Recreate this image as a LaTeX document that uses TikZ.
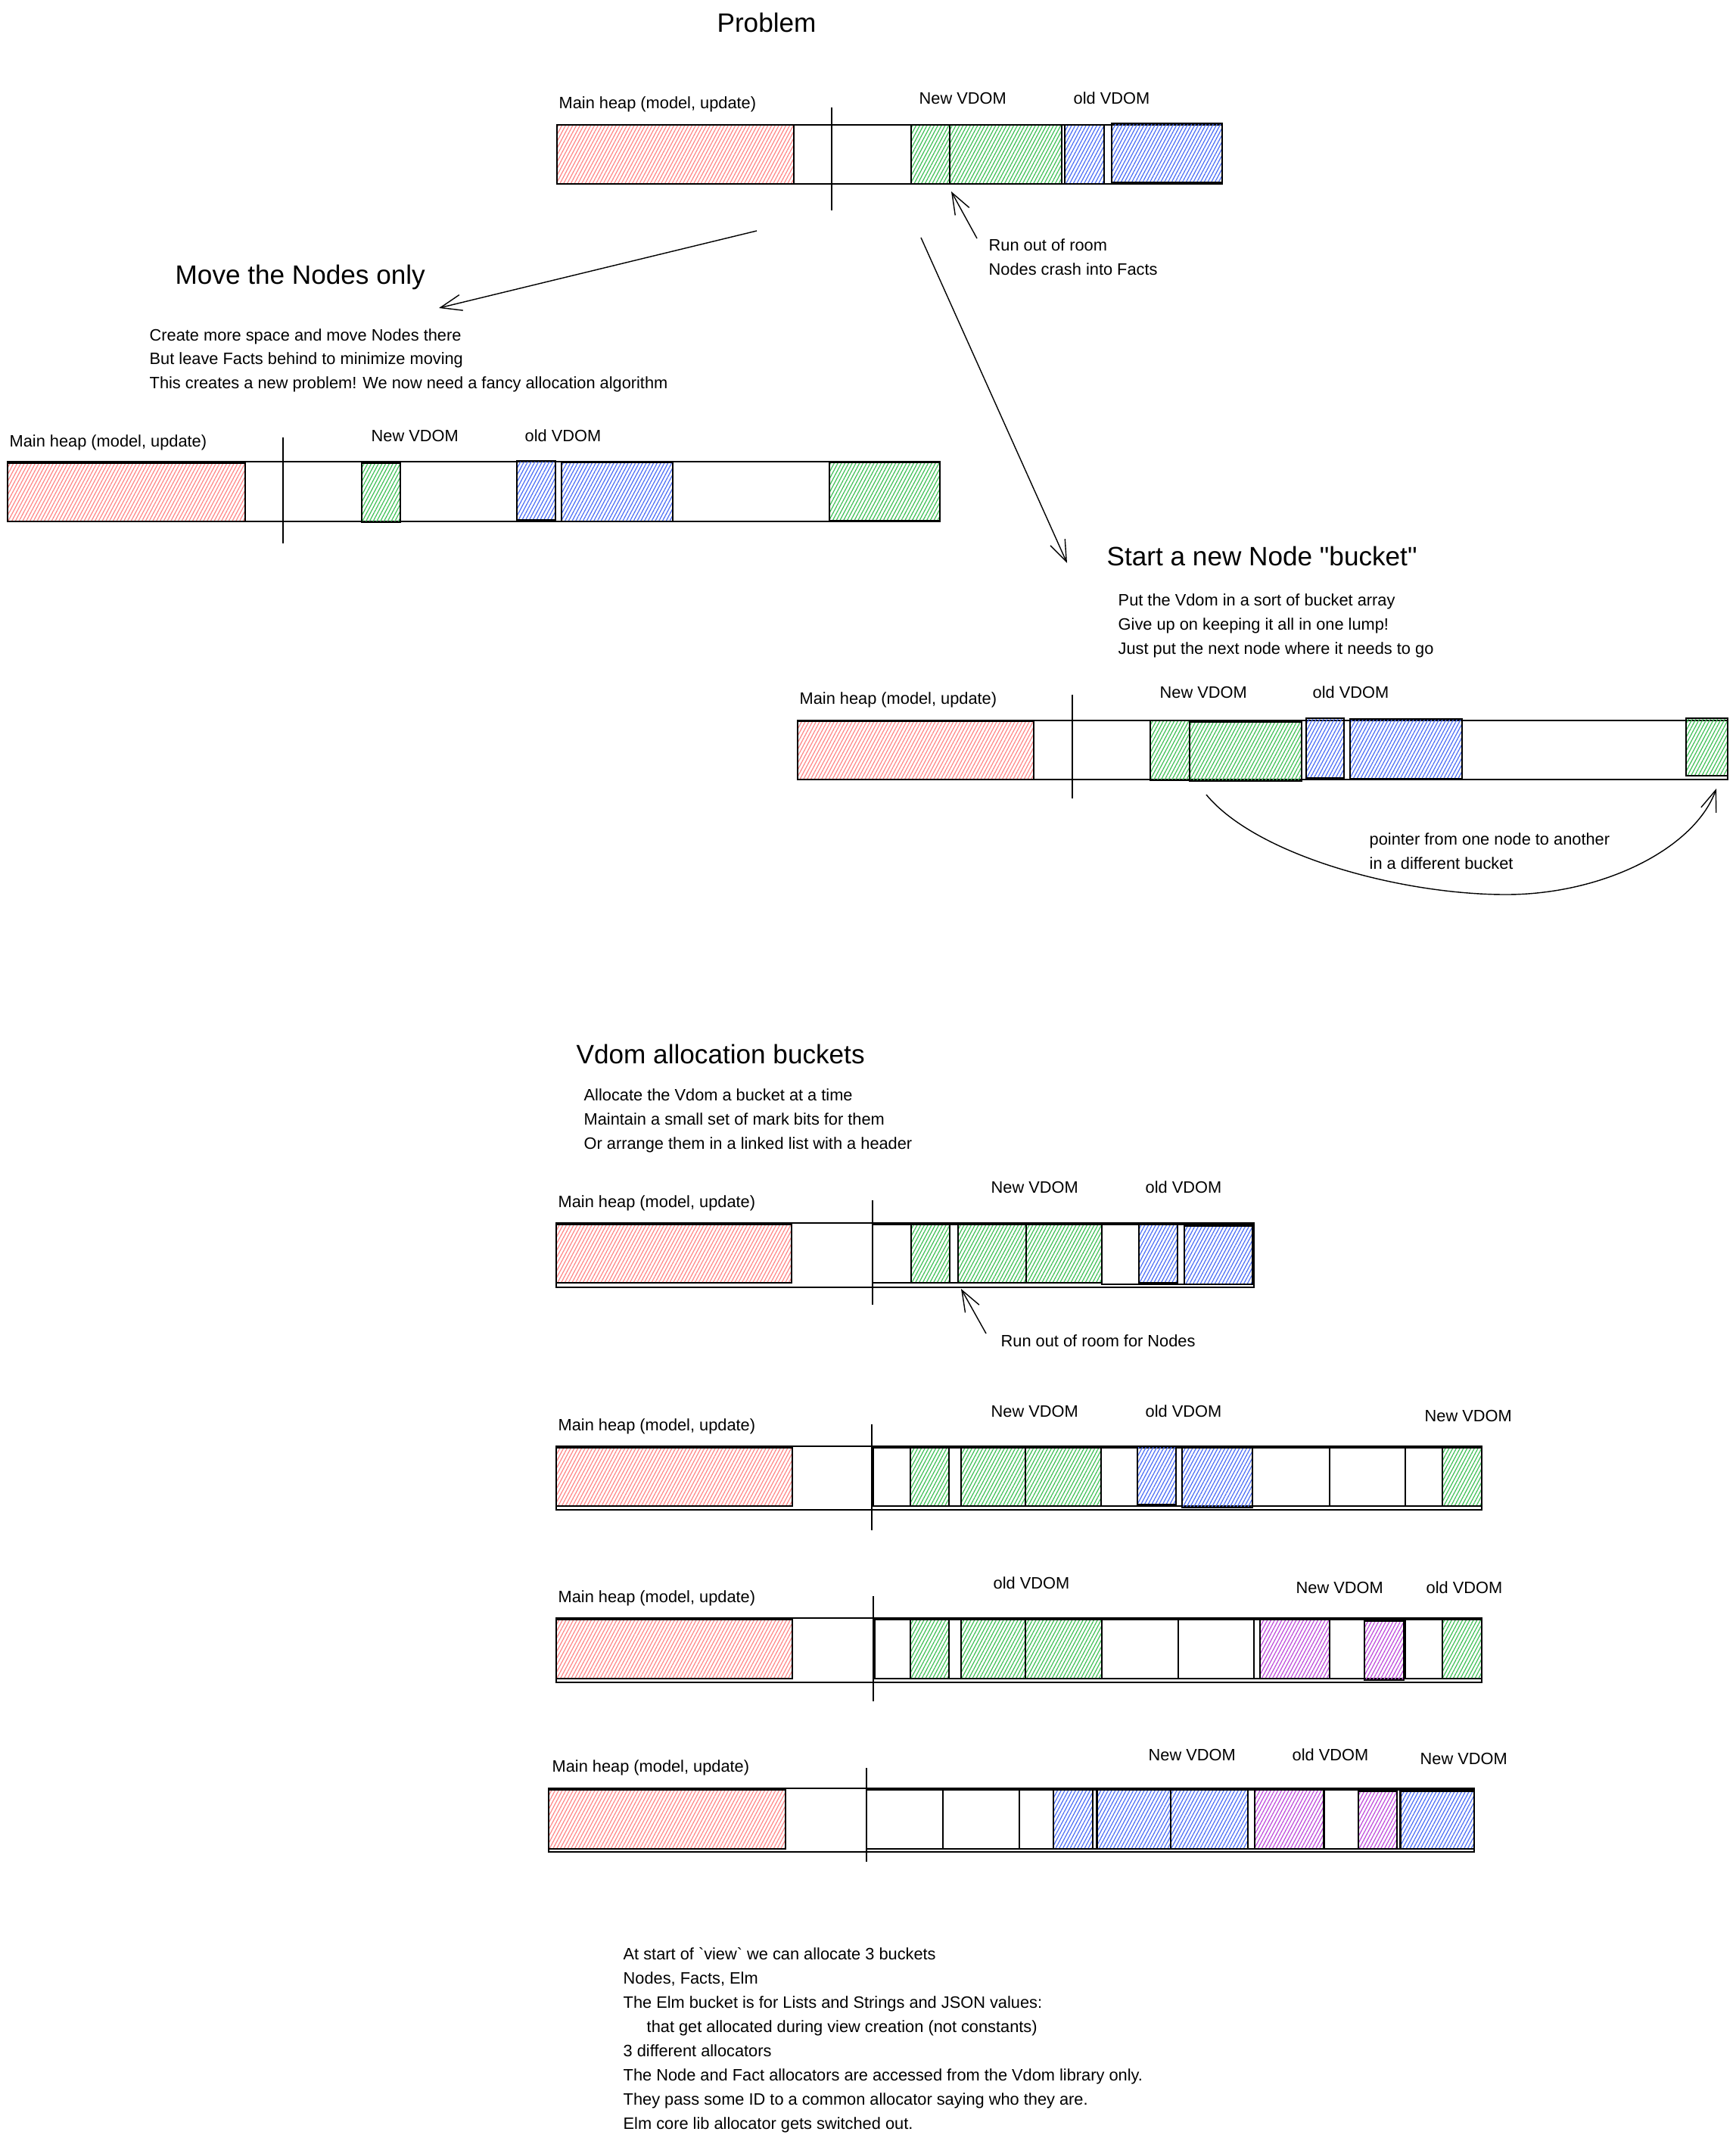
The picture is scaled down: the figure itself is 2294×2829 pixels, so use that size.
\documentclass[tikz,border=0pt]{standalone}
\usepackage{fontspec}
\setmainfont{Liberation Sans}
\usetikzlibrary{arrows.meta,patterns.meta}

\definecolor{hatchred}{HTML}{FF8787}
\definecolor{hatchgreen}{HTML}{40C057}
\definecolor{hatchblue}{HTML}{4C6EF5}
\definecolor{hatchpurple}{HTML}{BE4BDB}

\tikzset{
  bar/.style={draw, line width=0.5pt},
  hatch/.style={bar, pattern={Lines[angle=62,distance=1.2pt,line width=0.35pt]}},
  heapred/.style={hatch, pattern color=hatchred},
  nodegreen/.style={hatch, pattern color=hatchgreen},
  factblue/.style={hatch, pattern color=hatchblue},
  elmpurple/.style={hatch, pattern color=hatchpurple},
  sep/.style={line width=0.4pt},
  hand/.style={inner sep=0pt, anchor=base west, font=\fontsize{6.2}{7.5}\selectfont},
  title/.style={inner sep=0pt, anchor=base west, font=\fontsize{10}{12}\selectfont},
  >={Straight Barb[length=8pt,width=6pt]}
}

\begin{document}
\begin{tikzpicture}[x=0.1mm,y=-0.1mm]
    \useasboundingbox (0,0) rectangle (2294,2829);

    % titles
    \node[title, anchor=base] (problem) at (1013,43) {Problem};
    \node[title] (move) at (231,375) {Move the Nodes only};
    \node[title] (bucket) at (1462,747) {Start a new Node \textquotedbl bucket\textquotedbl};
    \node[title] (alloc) at (761,1405) {Vdom allocation buckets};

    % problem heap
    \draw[bar] (736,165) rectangle (1615,243);
    \draw[heapred] (736,165) rectangle (1049,243);
    \draw[nodegreen] (1204,165) rectangle (1255,243);
    \draw[nodegreen] (1255,165) rectangle (1403,243);
    \draw[factblue] (1407,165) rectangle (1459,243);
    \draw[factblue] (1469,163) rectangle (1615,241);
    \draw[sep] (1099,142) -- (1099,278);

    \node[hand] (heap_p) at (738,143) {Main heap (model, update)};
    \node[hand] (new_p) at (1214,137) {New VDOM};
    \node[hand] (old_p) at (1418,137) {old VDOM};
    \node[hand] (room_p) at (1306,331) {Run out of room};
    \node[hand] (crash_p) at (1306,363) {Nodes crash into Facts};

    \coordinate (room_tail) at (1291,315);
    \coordinate (room_tip) at (1257,253);
    \draw[->] (room_tail) -- (room_tip);

    % arrows out of the problem
    \coordinate (prob_l) at (1000,305);
    \coordinate (move_tip) at (580,407);
    \draw[->] (prob_l) -- (move_tip);
    \coordinate (prob_r) at (1217,314);
    \coordinate (bucket_tip) at (1410,744);
    \draw[->] (prob_r) -- (bucket_tip);

    % move the nodes only
    \node[hand] (move_1) at (197,450) {Create more space and move Nodes there};
    \node[hand] (move_2) at (197,481) {But leave Facts behind to minimize moving};
    \node[hand] (move_3) at (197,513) {This creates a new problem! We now need a fancy allocation algorithm};

    \draw[bar] (10,610) rectangle (1242,689);
    \draw[heapred] (10,612) rectangle (324,689);
    \draw[nodegreen] (478,612) rectangle (529,690);
    \draw[factblue] (683,609) rectangle (734,687);
    \draw[factblue] (742,611) rectangle (889,689);
    \draw[nodegreen] (1096,611) rectangle (1242,688);
    \draw[sep] (374,578) -- (374,718);

    \node[hand] (heap_m) at (12,590) {Main heap (model, update)};
    \node[hand] (new_m) at (490,583) {New VDOM};
    \node[hand] (old_m) at (693,583) {old VDOM};

    % start a new node bucket
    \node[hand] (bucket_1) at (1477,800) {Put the Vdom in a sort of bucket array};
    \node[hand] (bucket_2) at (1477,832) {Give up on keeping it all in one lump!};
    \node[hand] (bucket_3) at (1477,864) {Just put the next node where it needs to go};

    \draw[bar] (1054,952) rectangle (2283,1030);
    \draw[heapred] (1054,953) rectangle (1366,1030);
    \draw[nodegreen] (1520,952) rectangle (1572,1031);
    \draw[nodegreen] (1572,954) rectangle (1720,1032);
    \draw[factblue] (1726,949) rectangle (1776,1028);
    \draw[factblue] (1784,950) rectangle (1932,1029);
    \draw[nodegreen] (2228,949) rectangle (2283,1025);
    \draw[sep] (1417,918) -- (1417,1055);

    \node[hand] (heap_s) at (1056,930) {Main heap (model, update)};
    \node[hand] (new_s) at (1532,922) {New VDOM};
    \node[hand] (old_s) at (1734,922) {old VDOM};

    % pointer into the next bucket
    \coordinate (ptr_from) at (1594,1050);
    \coordinate (ptr_to) at (2268,1042);
    \draw[->] (ptr_from) .. controls (1660,1130) and (1850,1182) .. (1990,1182)
        .. controls (2120,1182) and (2240,1120) .. (ptr_to);
    \node[hand] (ptr_1) at (1809,1116) {pointer from one node to another};
    \node[hand] (ptr_2) at (1809,1148) {in a different bucket};

    % vdom allocation buckets
    \node[hand] (alloc_1) at (771,1454) {Allocate the Vdom a bucket at a time};
    \node[hand] (alloc_2) at (771,1486) {Maintain a small set of mark bits for them};
    \node[hand] (alloc_3) at (771,1518) {Or arrange them in a linked list with a header};

    % first bucket full
    \draw[bar] (735,1616) rectangle (1657,1701);
    \draw[heapred] (735,1618) rectangle (1046,1695);
    \draw[bar] (1153,1618) rectangle (1456,1695);
    \draw[bar] (1456,1618) rectangle (1657,1697);
    \draw[nodegreen] (1204,1618) rectangle (1255,1695);
    \draw[nodegreen] (1266,1618) rectangle (1356,1695);
    \draw[nodegreen] (1356,1618) rectangle (1456,1695);
    \draw[factblue] (1505,1618) rectangle (1556,1695);
    \draw[factblue] (1565,1620) rectangle (1655,1697);
    \draw[sep] (1153,1586) -- (1153,1724);

    \node[hand] (heap_a) at (737,1595) {Main heap (model, update)};
    \node[hand] (new_a) at (1309,1576) {New VDOM};
    \node[hand] (old_a) at (1513,1576) {old VDOM};
    \node[hand] (room_a) at (1322,1779) {Run out of room for Nodes};
    \coordinate (full_tail) at (1303,1762);
    \coordinate (full_tip) at (1270,1703);
    \draw[->] (full_tail) -- (full_tip);

    % more buckets
    \draw[bar] (735,1911) rectangle (1958,1995);
    \draw[heapred] (735,1913) rectangle (1047,1990);
    \foreach \a/\b in {1154/1455,1455/1655,1655/1757,1757/1857,1857/1958}
        \draw[bar] (\a,1913) rectangle (\b,1990);
    \draw[nodegreen] (1203,1913) rectangle (1254,1990);
    \draw[nodegreen] (1270,1913) rectangle (1355,1990);
    \draw[nodegreen] (1355,1913) rectangle (1455,1990);
    \draw[factblue] (1503,1911) rectangle (1554,1988);
    \draw[factblue] (1562,1913) rectangle (1655,1992);
    \draw[nodegreen] (1906,1913) rectangle (1958,1990);
    \draw[sep] (1152,1882) -- (1152,2022);

    \node[hand] (heap_b) at (737,1890) {Main heap (model, update)};
    \node[hand] (new_b) at (1309,1872) {New VDOM};
    \node[hand] (old_b) at (1513,1872) {old VDOM};
    \node[hand] (next_b) at (1882,1878) {New VDOM};

    % old facts freed
    \draw[bar] (735,2138) rectangle (1958,2223);
    \draw[heapred] (735,2140) rectangle (1047,2218);
    \foreach \a/\b in {1156/1456,1456/1557,1557/1657,1657/1757,1757/1857,1857/1958}
        \draw[bar] (\a,2140) rectangle (\b,2218);
    \draw[nodegreen] (1203,2140) rectangle (1254,2218);
    \draw[nodegreen] (1270,2140) rectangle (1355,2218);
    \draw[nodegreen] (1355,2140) rectangle (1456,2218);
    \draw[elmpurple] (1665,2140) rectangle (1757,2218);
    \draw[elmpurple] (1803,2142) rectangle (1855,2220);
    \draw[nodegreen] (1906,2140) rectangle (1958,2218);
    \draw[sep] (1154,2109) -- (1154,2248);

    \node[hand] (heap_c) at (737,2117) {Main heap (model, update)};
    \node[hand] (old_c) at (1312,2099) {old VDOM};
    \node[hand] (new_c) at (1712,2105) {New VDOM};
    \node[hand] (last_c) at (1884,2105) {old VDOM};

    % old nodes freed
    \draw[bar] (725,2363) rectangle (1948,2447);
    \draw[heapred] (725,2365) rectangle (1038,2443);
    \foreach \a/\b in {1145/1246,1246/1347,1347/1449,1449/1547,1547/1649,1649/1750,1750/1850,1850/1948}
        \draw[bar] (\a,2365) rectangle (\b,2443);
    \draw[factblue] (1392,2365) rectangle (1444,2443);
    \draw[factblue] (1450,2365) rectangle (1547,2443);
    \draw[factblue] (1547,2365) rectangle (1649,2443);
    \draw[elmpurple] (1658,2365) rectangle (1749,2443);
    \draw[elmpurple] (1795,2367) rectangle (1846,2443);
    \draw[factblue] (1851,2367) rectangle (1948,2443);
    \draw[sep] (1145,2336) -- (1145,2460);

    \node[hand] (heap_d) at (729,2341) {Main heap (model, update)};
    \node[hand] (new_d) at (1517,2326) {New VDOM};
    \node[hand] (old_d) at (1707,2326) {old VDOM};
    \node[hand] (next_d) at (1876,2331) {New VDOM};

    % notes
    \node[hand] (note_1) at (823,2589) {At start of \textasciigrave view\textasciigrave\ we can allocate 3 buckets};
    \node[hand] (note_2) at (823,2621) {Nodes, Facts, Elm};
    \node[hand] (note_3) at (823,2653) {The Elm bucket is for Lists and Strings and JSON values:};
    \node[hand] (note_4) at (854,2685) {that get allocated during view creation (not constants)};
    \node[hand] (note_5) at (823,2717) {3 different allocators};
    \node[hand] (note_6) at (823,2749) {The Node and Fact allocators are accessed from the Vdom library only.};
    \node[hand] (note_7) at (823,2781) {They pass some ID to a common allocator saying who they are.};
    \node[hand] (note_8) at (823,2813) {Elm core lib allocator gets switched out.};
\end{tikzpicture}
\end{document}
